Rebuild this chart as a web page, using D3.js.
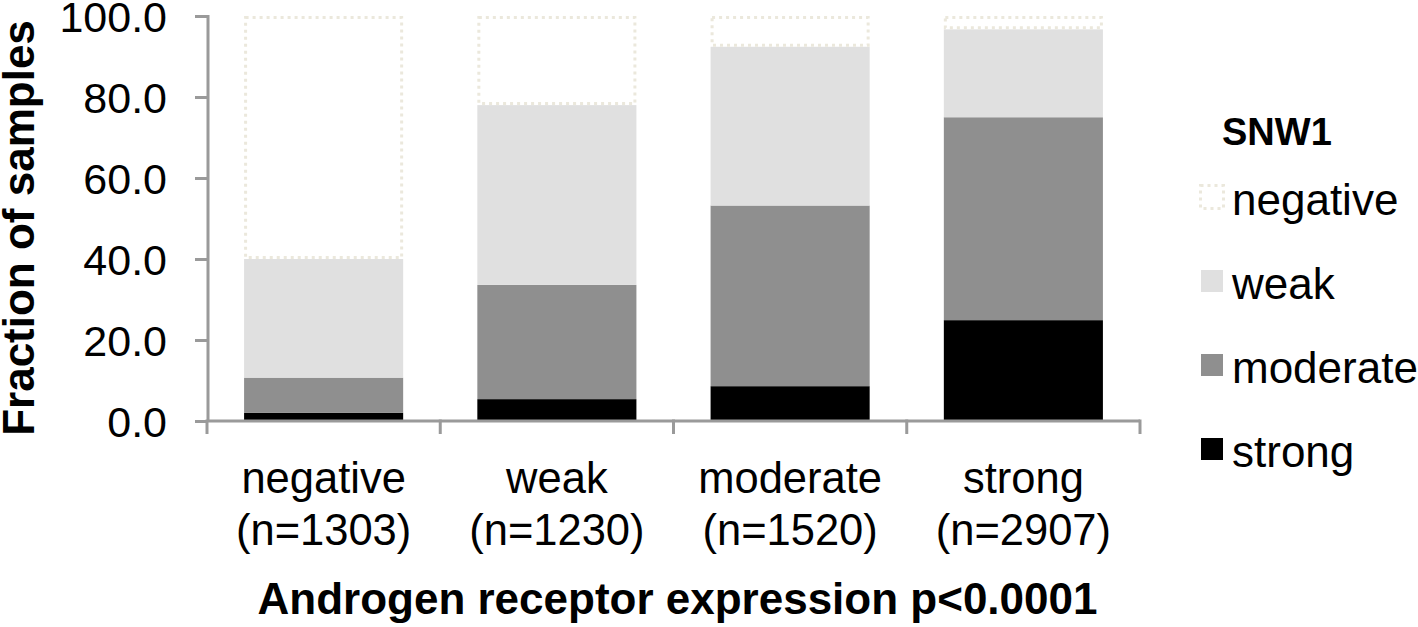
<!DOCTYPE html>
<html>
<head>
<meta charset="utf-8">
<script src="https://cdn.jsdelivr.net/npm/d3@7"></script>
<style>
  html, body { margin: 0; padding: 0; background: #fff; }
  svg { display: block; font-family: "Liberation Sans", Arial, sans-serif; }
</style>
</head>
<body>
<svg id="chart" width="1418" height="627"></svg>
<script>
// ---- data ----
const categories = ["negative", "weak", "moderate", "strong"];
const categoryCounts = ["(n=1303)", "(n=1230)", "(n=1520)", "(n=2907)"];
const seriesNames = ["strong", "moderate", "weak", "negative"];
const strongVals   = [2.0, 5.4, 8.6, 24.9];
const moderateVals = [8.7, 28.2, 44.6, 50.1];
const weakVals     = [29.3, 44.4, 39.2, 21.7];
const negativeVals = [60.0, 22.0, 7.6, 3.3];
const yTicks = [0, 20, 40, 60, 80, 100];
const legendOrder = ["negative", "weak", "moderate", "strong"];
const legendTitle = "SNW1";
const yTitle = "Fraction of samples";
const xTitle = "Androgen receptor expression p<0.0001";

// ---- build table ----
const rows = categories.map((c, i) => ({
  cat: c,
  strong: strongVals[i],
  moderate: moderateVals[i],
  weak: weakVals[i],
  negative: negativeVals[i]
}));
const stacked = d3.stack().keys(seriesNames)(rows);

const fills = { strong: "#000000", moderate: "#8f8f8f", weak: "#e0e0e0", negative: "#ffffff" };
const dotted = "#ebe8dc";
const axisColor = "#9a9a9a";

const svg = d3.select("#chart");
const x0 = 207, x1 = 1140, yBottom = 421, yTop = 16;

const x = d3.scaleBand().domain(categories).range([x0, x1])
  .paddingInner(0.318).paddingOuter(0.159);
const y = d3.scaleLinear().domain([0, 100]).range([yBottom, yTop]);

// bars
const layer = svg.append("g");
stacked.forEach(s => {
  const g = layer.append("g");
  g.selectAll("rect").data(s).join("rect")
    .attr("x", d => x(d.data.cat))
    .attr("width", x.bandwidth())
    .attr("y", d => y(d[1]))
    .attr("height", d => y(d[0]) - y(d[1]))
    .attr("fill", fills[s.key])
    .each(function(d) {
      if (s.key === "negative") {
        d3.select(this)
          .attr("x", x(d.data.cat) + 1.5)
          .attr("width", x.bandwidth() - 3)
          .attr("y", y(d[1]) + 1.5)
          .attr("height", y(d[0]) - y(d[1]) - 3)
          .attr("stroke", dotted).attr("stroke-width", 3)
          .attr("stroke-dasharray", "3,4");
      }
    });
});

// y axis
const yAxis = d3.axisLeft(y).tickValues(yTicks).tickFormat(d3.format(".1f"))
  .tickSize(13).tickPadding(28);
const gy = svg.append("g").attr("transform", `translate(${x0 + 1},0)`).call(yAxis);
gy.select(".domain").attr("stroke", axisColor).attr("stroke-width", 3)
  .attr("d", `M0,${yTop - 1}V${yBottom}`);
gy.selectAll(".tick line").attr("stroke", axisColor).attr("stroke-width", 3);
gy.selectAll(".tick text").attr("font-size", 43).attr("fill", "#000")
  .attr("dy", "0.36em")
  .attr("font-family", "'Liberation Sans', Arial, sans-serif");

// x axis
const gx = svg.append("g").attr("transform", `translate(0,${yBottom})`);
gx.append("line").attr("x1", x0).attr("x2", x1).attr("y1", 0).attr("y2", 0)
  .attr("stroke", axisColor).attr("stroke-width", 3);
const bounds = categories.map(c => x(c) - x.step() * x.paddingInner() / 2)
  .concat([x1]);
bounds[0] = x0;
gx.selectAll("line.tk").data(bounds).join("line").attr("class", "tk")
  .attr("x1", d => d).attr("x2", d => d).attr("y1", -1.5).attr("y2", 13)
  .attr("stroke", axisColor).attr("stroke-width", 3);
const lbl = gx.selectAll("text.cl").data(categories).join("text").attr("class", "cl")
  .attr("text-anchor", "middle").attr("font-size", 43.5).attr("fill", "#000")
  .attr("x", d => x(d) + x.bandwidth() / 2);
lbl.append("tspan").attr("x", d => x(d) + x.bandwidth() / 2).attr("y", 72).text(d => d);
lbl.append("tspan").attr("x", d => x(d) + x.bandwidth() / 2).attr("y", 124)
  .text((d, i) => categoryCounts[i]);

// titles
svg.append("text").attr("x", (x0 + x1) / 2 + 4).attr("y", 614)
  .attr("text-anchor", "middle").attr("font-size", 44).attr("font-weight", "bold")
  .text(xTitle);
svg.append("text").attr("transform", `translate(34,228) rotate(-90)`)
  .attr("text-anchor", "middle").attr("font-size", 44).attr("font-weight", "bold")
  .text(yTitle);

// legend
const lg = svg.append("g");
lg.append("text").attr("x", 1222).attr("y", 145).attr("font-size", 38)
  .attr("font-weight", "bold").text(legendTitle);
legendOrder.forEach((k, i) => {
  const cy = 197 + i * 84;
  const r = lg.append("rect").attr("x", 1201).attr("y", cy - 11)
    .attr("width", 22).attr("height", 22).attr("fill", fills[k]);
  if (k === "negative") {
    r.attr("x", 1200.5).attr("y", cy - 11.5).attr("width", 23).attr("height", 23)
      .attr("stroke", dotted).attr("stroke-width", 3).attr("stroke-dasharray", "3,4");
  }
  lg.append("text").attr("x", 1232).attr("y", cy + 18).attr("font-size", 44).text(k);
});
</script>
</body>
</html>
